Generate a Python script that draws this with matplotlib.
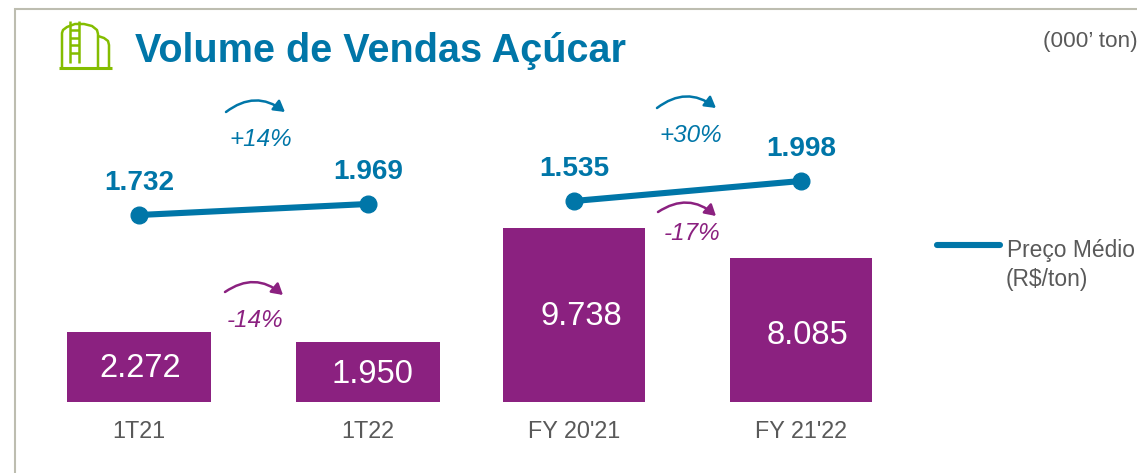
import matplotlib
matplotlib.use("Agg")
import matplotlib.pyplot as plt
from matplotlib.patches import FancyArrowPatch

plt.rcParams['font.family'] = ['Liberation Sans', 'DejaVu Sans']

W, H = 1137, 473
BLUE = '#0076A8'
PURPLE = '#8B2180'
GREEN = '#84BD00'
GREY = '#595959'

quarters = ['1T21', '1T22']
quarter_volume = [2272, 1950]
quarter_price = [1732, 1969]
years = ["FY 20'21", "FY 21'22"]
year_volume = [9738, 8085]
year_price = [1535, 1998]


def br(v):
    return f'{v:,}'.replace(',', '.')


fig = plt.figure(figsize=(W / 100, H / 100), dpi=100)


def panel(x0, x1, ytop, ybot):
    return fig.add_axes([x0 / W, 1 - ybot / H, (x1 - x0) / W, (ybot - ytop) / H])


def draw_group(box, labels, volume, price, width, vol_max, price_lim, vol_dy):
    ax = panel(*box)
    ax.set_xlim(-0.5, 1.5)
    ax.set_ylim(0, vol_max)
    bars = ax.bar(labels, volume, width=width, color=PURPLE)
    for b, v, dy in zip(bars, volume, vol_dy):
        ax.annotate(br(v), (b.get_x() + b.get_width() / 2, v / 2), xytext=dy,
                    textcoords='offset pixels', ha='center', va='center',
                    color='white', fontsize=23.5)
    ax.tick_params(axis='x', length=0, pad=13, labelsize=16.8, labelcolor=GREY)
    ax.set_yticks([])
    for s in ax.spines.values():
        s.set_visible(False)
    ax.patch.set_alpha(0)

    ax2 = ax.twinx()
    ax2.set_ylim(*price_lim)
    ax2.plot(labels, price, color=BLUE, lw=4.4, marker='o', ms=12, mec=BLUE)
    for i, v in enumerate(price):
        ax2.annotate(br(v), (i, v), xytext=(0, 31.5), textcoords='offset pixels',
                     ha='center', va='center', color=BLUE, fontsize=20.2, fontweight='bold')
    ax2.set_yticks([])
    for s in ax2.spines.values():
        s.set_visible(False)


draw_group((25, 482, 100, 402), quarters, quarter_volume, quarter_price, 0.63, 9800,
           (-2298, 4210), [(1, -2), (5, -3)])
draw_group((460.5, 914.5, 100, 402), years, year_volume, year_price, 0.626, 16900,
           (-3118, 3873), [(7, -2), (7, -6)])

# everything else is placed in reference pixels
ov = fig.add_axes([0, 0, 1, 1])
ov.set_xlim(0, W)
ov.set_ylim(H, 0)
ov.axis('off')
ov.patch.set_alpha(0)

# frame
ov.plot([15, 15, W], [H, 9, 9], color='#BDBDB0', lw=1.5, solid_joinstyle='miter')

# tank icon
ic = dict(color=GREEN, lw=1.8, solid_capstyle='butt')
ov.plot([59, 112], [68.5, 68.5], color=GREEN, lw=2.2, solid_capstyle='butt')
ov.plot([62, 62, 63, 67, 75, 84, 92, 97, 98, 98],
        [68, 33, 30, 27, 24, 24, 26, 30, 34, 68], **ic)
ov.plot([98, 104, 108, 109, 109], [36, 38, 41, 45, 68], **ic)
ov.plot([70, 70], [21, 63], **ic)
ov.plot([79, 79], [21, 63], **ic)
for y in (30, 38, 45, 53):
    ov.plot([70, 79], [y, y], **ic)

ov.text(135, 50.5, 'Volume de Vendas Açúcar', color=BLUE, fontsize=28.5, fontweight='bold',
        ha='left', va='center')
ov.text(1043, 41.5, '(000’ ton)', color=GREY, fontsize=16.2, ha='left', va='center')

# variation arrows
changes = [
    ('+14%', BLUE, 226, 112, 285, 112, 261, 139.5),
    ('-14%', PURPLE, 225, 292, 283, 295, 255, 320.5),
    ('+30%', BLUE, 657, 108, 716, 108, 691, 135.5),
    ('-17%', PURPLE, 658, 212, 716, 216, 692, 233.5),
]
for label, col, x0, y0, x1, y1, tx, ty in changes:
    ov.add_patch(FancyArrowPatch((x0, y0), (x1, y1), connectionstyle='arc3,rad=-0.38',
                                 arrowstyle='-|>,head_length=6.5,head_width=3.8',
                                 color=col, lw=1.8, shrinkA=0, shrinkB=0))
    ov.text(tx, ty, label, color=col, fontsize=17.5, style='italic', ha='center', va='center')

# legend
ov.plot([937, 1000], [245, 245], color=BLUE, lw=4.4, solid_capstyle='round')
ov.text(1007, 250, 'Preço Médio', color=GREY, fontsize=16.4, ha='left', va='center')
ov.text(1006, 279, '(R$/ton)', color=GREY, fontsize=16.4, ha='left', va='center')

fig.savefig('out.png', dpi=100)
